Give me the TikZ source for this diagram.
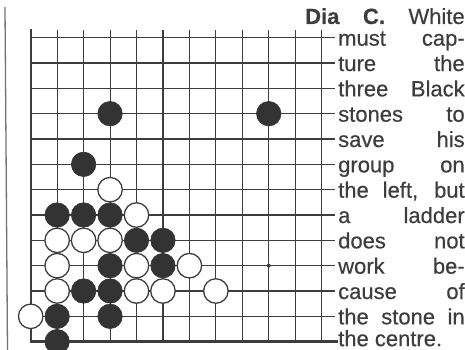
\documentclass[tikz,border=0pt]{standalone}
\usepackage{fontspec}
\setmainfont{Liberation Sans}
\newfontfamily\captionfont[FakeBold=0.4]{Liberation Sans}
\definecolor{ink}{gray}{0.24}
\definecolor{stoneblack}{gray}{0.2}
\definecolor{pagerule}{gray}{0.45}
\begin{document}
\begin{tikzpicture}[x=1pt,y=-1pt,
  gridline/.style={draw=ink,line width=1.1pt},
  edgeline/.style={draw=ink,line width=2.4pt},
  rule/.style={draw=pagerule,line width=1.3pt},
  bstone/.style={circle,fill=stoneblack,draw=stoneblack,line width=0.6pt,minimum size=24.5pt,inner sep=0pt},
  wstone/.style={circle,fill=white,draw=ink,line width=1.3pt,minimum size=24.5pt,inner sep=0pt},
  hoshi/.style={circle,fill=ink,minimum size=4pt,inner sep=0pt},
  txt/.style={anchor=base west,inner sep=0pt,font=\captionfont\fontsize{22}{24}\selectfont,text=ink}]
\useasboundingbox (0,0) rectangle (465,350);
% page rule at far left
\coordinate (r1) at (5,7);
\coordinate (r2) at (7.5,350);
\draw[rule] (r1) -- (r2);
% board
\begin{scope}[shift={(30.7,37.7)},x=26.45pt,y=-25.33pt]
  \foreach \c in {1,...,11} \draw[gridline] (\c,-0.3) -- (\c,12);
  \foreach \r in {0,...,11} \draw[gridline] (0,\r) -- (11.5,\r);
  \draw[edgeline] (0,-0.34) -- (0,12) -- (11.62,12);
  \node[hoshi] (h99) at (9,9) {};
  % black stones
  \foreach \c/\r in {3/3,9/3,2/5,1/7,2/7,3/7,4/8,5/8,3/9,5/9,2/10,3/10,1/11,3/11,1/12}
    \node[bstone] (b\c-\r) at (\c,\r) {};
  % white stones
  \foreach \c/\r in {3/6,4/7,1/8,2/8,3/8,1/9,4/9,6/9,1/10,4/10,5/10,7/10,0/11}
    \node[wstone] (w\c-\r) at (\c,\r) {};
\end{scope}
% text
\node[txt] (t0) at (305,24) {\makebox[159.5pt][s]{\textbf{Dia} \textbf{C.} White}};
\foreach \t [count=\i from 0] in {must cap-,ture the,three Black,stones to,save his,group on,{the left, but},a ladder,does not,work be-,cause of,the stone in}
  \node[txt] (l\i) at (338,{37.7+25.33*\i+8}) {\makebox[126.5pt][s]{\t}};
\node[txt] (l12) at (338,{37.7+25.33*12+4.5}) {the centre.};
\end{tikzpicture}
\end{document}
